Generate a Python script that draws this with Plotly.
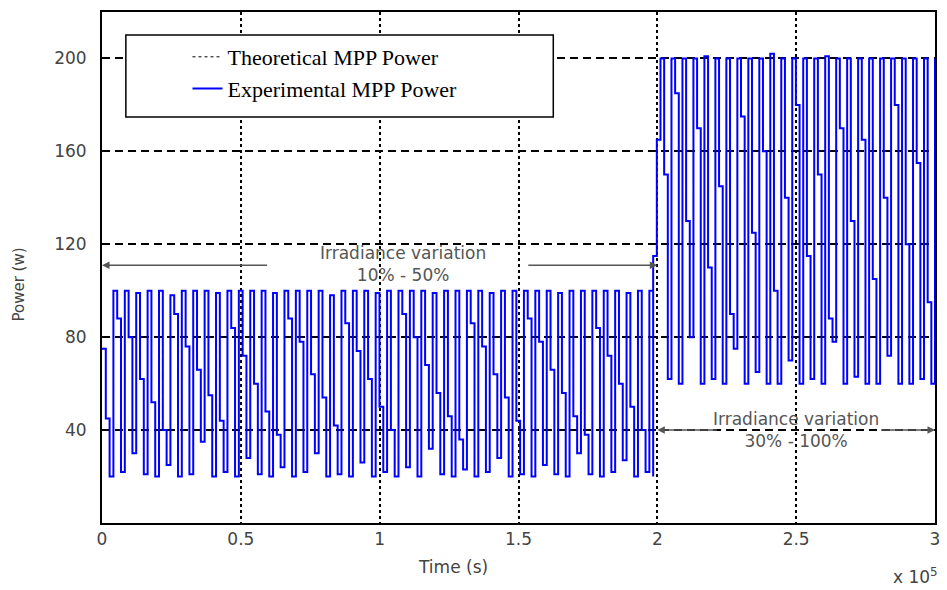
import numpy as np
import plotly.graph_objects as go

# ---- data (time in units of 1e5 s, power in W) ----
left_power = [75, 45, 20, 100, 88, 22, 100, 80, 30, 99, 62, 21, 100, 52, 20, 100, 40, 25,
              98, 90, 20, 100, 76, 21, 100, 66, 35, 100, 55, 20, 99, 44, 22, 100, 84, 20,
              100, 72, 28, 100, 60, 21, 100, 48, 20, 99, 38, 24, 100, 88, 20, 100, 78, 22,
              100, 64, 30, 100, 54, 20, 98, 42, 21, 100, 86, 20, 100, 74, 26, 100, 62, 20,
              99, 50, 22, 100, 40, 20, 100, 90, 24, 100, 80, 20, 100, 68, 32, 99, 56, 21,
              100, 46, 20, 100, 36, 23, 100, 86, 20, 100, 76, 22, 99, 64, 28, 100, 54, 20,
              100, 44, 21, 100, 88, 20, 100, 78, 25, 100, 66, 21, 99, 56, 20, 100, 46, 30,
              100, 38, 21, 100, 84, 20, 100, 72, 22, 100, 60, 27, 99, 50, 20, 100, 40, 22,
              100, 20]
right_power = [115, 165, 200, 150, 62, 200, 185, 60, 200, 130, 80, 200, 170, 60, 201, 110,
               62, 200, 145, 60, 200, 90, 75, 200, 175, 60, 200, 125, 65, 200, 160, 60, 202,
               100, 60, 200, 140, 70, 200, 180, 60, 200, 115, 62, 200, 150, 60, 201, 88, 78,
               200, 170, 60, 200, 130, 63, 200, 165, 60, 200, 105, 60, 200, 140, 72, 200,
               180, 60, 200, 120, 60, 200, 155, 62, 200, 95, 60, 200]
left_span = (0.0, 1.985)
right_span = (1.985, 3.0)

x_ticks = [0, 0.5, 1, 1.5, 2, 2.5, 3]
x_tick_labels = ["0", "0.5", "1", "1.5", "2", "2.5", "3"]
y_ticks = [40, 80, 120, 160, 200]
y_tick_labels = ["40", "80", "120", "160", "200"]

t_left = np.linspace(left_span[0], left_span[1], len(left_power))
t_right = np.linspace(right_span[0], right_span[1], len(right_power))
t_exp = np.concatenate([t_left, t_right])
p_exp = left_power + right_power

fig = go.Figure()
fig.add_trace(go.Scatter(x=[None], y=[None], mode="lines", name="Theoretical MPP Power",
                         line=dict(color="black", width=1, dash="dot")))
fig.add_trace(go.Scatter(x=t_exp, y=p_exp, mode="lines", name="Experimental MPP Power",
                         line=dict(color="#0000ff", width=2, shape="hv")))

tick_font = dict(family="DejaVu Sans", size=17, color="#444")
ann_font = dict(family="DejaVu Sans", size=17, color="#555")

fig.update_layout(
    width=947, height=590,
    margin=dict(l=102, r=7, t=12, b=67),
    paper_bgcolor="white", plot_bgcolor="white",
    showlegend=True,
    legend=dict(x=(188 - 102) / 838, y=(523 - 36) / 511, xanchor="left", yanchor="top",
                bgcolor="rgba(0,0,0,0)", borderwidth=0,
                font=dict(family="Liberation Serif", size=22, color="black"),
                tracegroupgap=0),
    xaxis=dict(range=[0, 3], tickvals=x_ticks, ticktext=x_tick_labels, tickfont=tick_font,
               showgrid=True, gridcolor="black", griddash="3px,3px", gridwidth=1.5,
               showline=True, linecolor="black", linewidth=2, mirror=True,
               zeroline=False, ticks=""),
    yaxis=dict(range=[0, 220], tickvals=y_ticks, ticktext=y_tick_labels, tickfont=tick_font,
               showgrid=True, gridcolor="black", griddash="8px,5px", gridwidth=1.5,
               showline=True, linecolor="black", linewidth=2, mirror=True,
               zeroline=False, ticks="", ticklabelstandoff=10),
)

# legend frame
fig.add_shape(type="rect", xref="paper", yref="paper",
              x0=(126 - 102) / 838, x1=(556 - 102) / 838,
              y0=(523 - 117) / 511, y1=(523 - 35) / 511,
              line=dict(color="black", width=1.5), fillcolor="white", layer="above")

# axis titles and exponent
fig.add_annotation(text="Time (s)", xref="paper", yref="paper", x=(455 - 102) / 838,
                   y=(523 - 567) / 511, yanchor="middle", xanchor="center",
                   showarrow=False, font=tick_font)
fig.add_annotation(text="Power (w)", xref="paper", yref="paper", x=(18 - 102) / 838,
                   y=(523 - 285) / 511, xanchor="center", yanchor="middle",
                   showarrow=False, textangle=-90,
                   font=dict(family="DejaVu Sans", size=15, color="#444"))
fig.add_annotation(text="x 10<sup>5</sup>", xref="paper", yref="paper", x=1.006,
                   y=(523 - 576) / 511, xanchor="right", yanchor="middle",
                   showarrow=False, font=tick_font)

# irradiance annotations
fig.add_annotation(text="Irradiance variation<br>10% - 50%", x=1.085, y=111.5,
                   showarrow=False, font=ann_font)
for x0, x1 in [(0.6, 0.0), (1.53, 2.0)]:
    fig.add_annotation(x=x1, y=111, ax=x0, ay=111, axref="x", ayref="y", text="",
                       showarrow=True, arrowhead=2, arrowsize=1, arrowwidth=1.5,
                       arrowcolor="#555")
fig.add_annotation(text="Irradiance variation<br>30% - 100%", x=2.5, y=40,
                   showarrow=False, font=ann_font)
for x0, x1 in [(2.22, 2.0), (2.8, 3.0)]:
    fig.add_annotation(x=x1, y=40, ax=x0, ay=40, axref="x", ayref="y", text="",
                       showarrow=True, arrowhead=2, arrowsize=1, arrowwidth=1.5,
                       arrowcolor="#555")

fig.write_html("out.html")
